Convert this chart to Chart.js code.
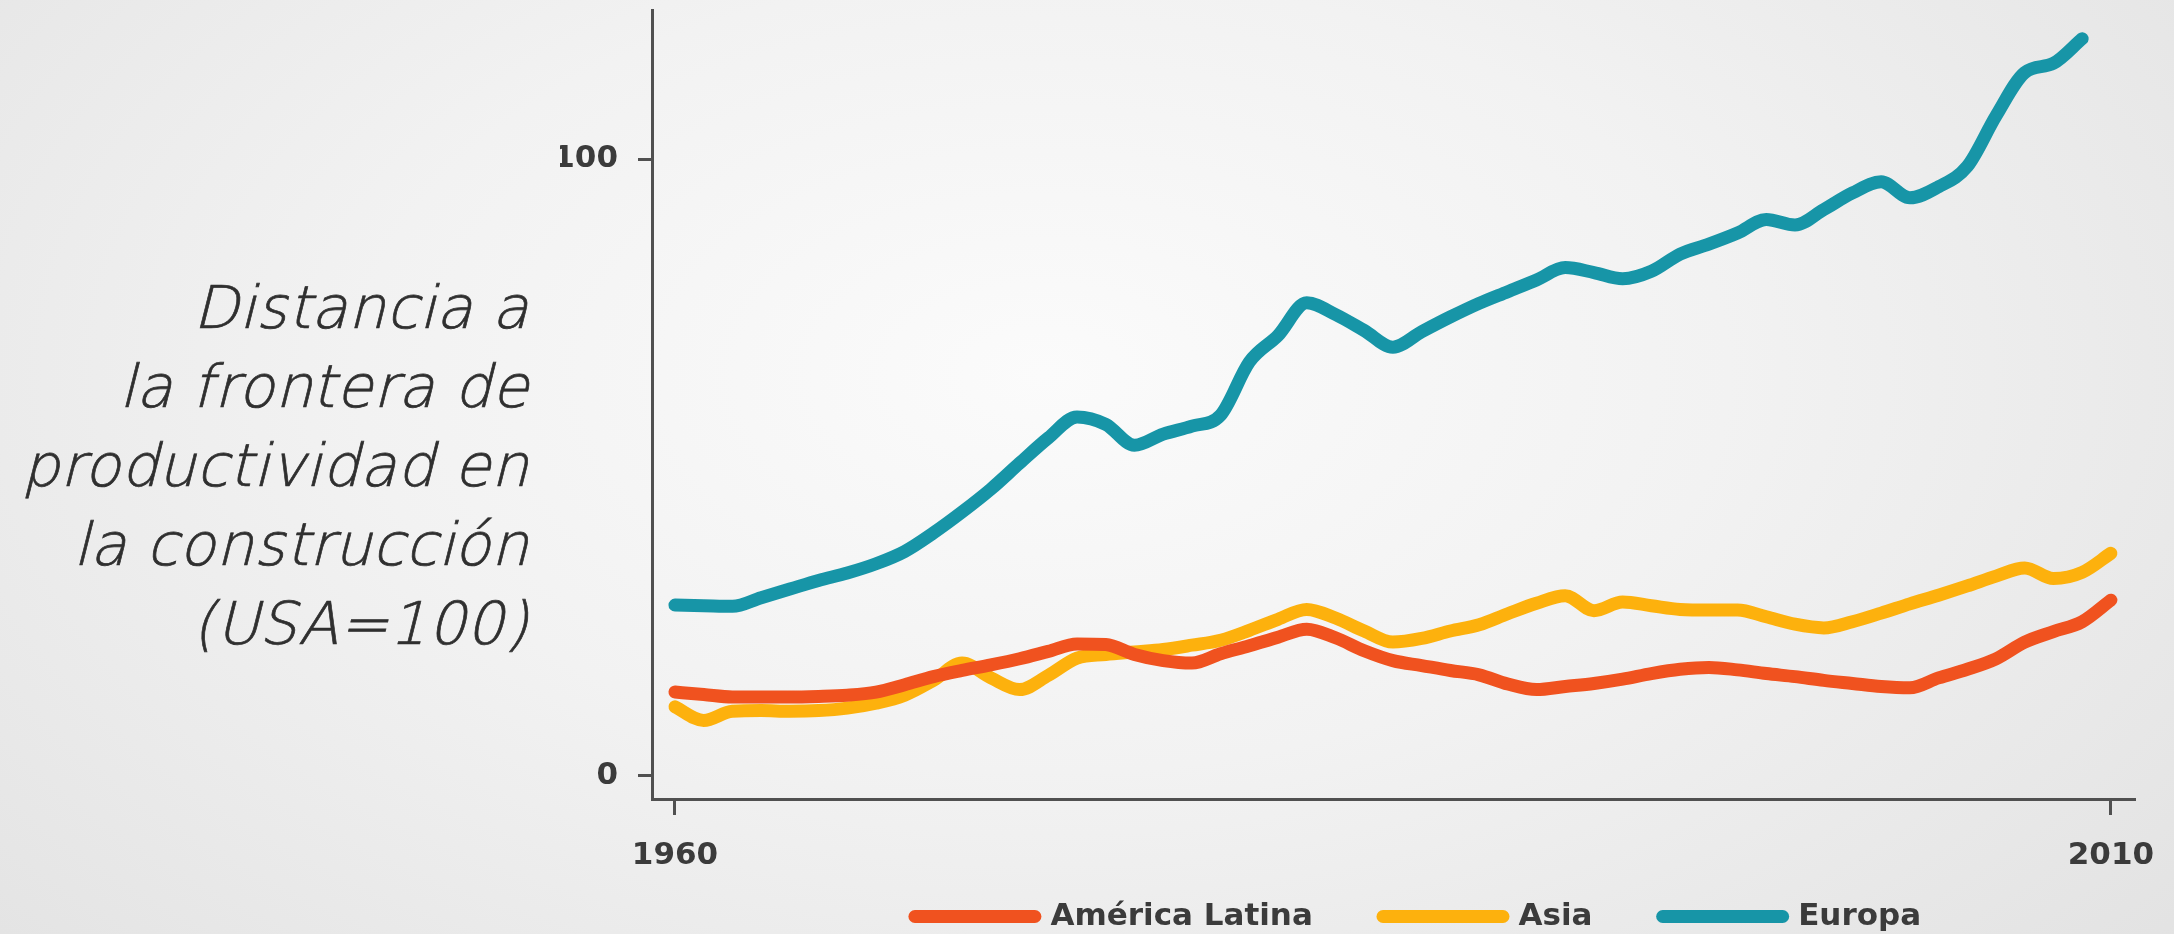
<!DOCTYPE html>
<html lang="es">
<head>
<meta charset="utf-8">
<title>Distancia a la frontera de productividad en la construcción</title>
<script src="https://cdn.jsdelivr.net/npm/chart.js@4.4.1/dist/chart.umd.min.js"></script>
<style>
  @font-face {
    font-family: "TituloLigera";
    src: local("DejaVu Sans ExtraLight"), local("DejaVuSans-ExtraLight");
    font-style: normal;
  }
  html, body { margin: 0; padding: 0; width: 2174px; height: 934px; overflow: hidden; }
  body {
    position: relative;
    background: radial-gradient(ellipse 70% 95% at 48% 40%, #fbfbfb 0%, #f2f2f2 45%, #e2e2e2 100%);
  }
  #titulo {
    position: absolute;
    left: 0;
    top: 268px;
    width: 529px;
    text-align: right;
    white-space: nowrap;
    font-family: "TituloLigera", "DejaVu Sans", sans-serif;
    font-style: italic;
    font-size: 59px;
    line-height: 79px;
    letter-spacing: 0.8px;
    color: #2f2f2f;
    -webkit-text-stroke: 0.7px #2f2f2f;
  }
  #grafico { position: absolute; left: 560px; top: 0; }
</style>
</head>
<body>
<div id="titulo">Distancia a<br>la frontera de<br>productividad en<br>la construcción<br>(USA=100)</div>
<canvas id="grafico" width="1716" height="942"></canvas>

<script>
// datos
const anios = [1960, 1961, 1962, 1963, 1964, 1965, 1966, 1967, 1968, 1969,
               1970, 1971, 1972, 1973, 1974, 1975, 1976, 1977, 1978, 1979,
               1980, 1981, 1982, 1983, 1984, 1985, 1986, 1987, 1988, 1989,
               1990, 1991, 1992, 1993, 1994, 1995, 1996, 1997, 1998, 1999,
               2000, 2001, 2002, 2003, 2004, 2005, 2006, 2007, 2008, 2009, 2010];

const americaLatina = [13.6, 13.2, 12.8, 12.8, 12.8, 12.9, 13.1, 13.6, 14.8, 16.1,
                       17.1, 18.0, 19.0, 20.2, 21.4, 21.3, 19.7, 18.7, 18.3, 19.8,
                       21.1, 22.5, 23.8, 22.4, 20.3, 18.7, 17.9, 17.1, 16.4, 14.9,
                       14.0, 14.5, 15.0, 15.7, 16.6, 17.3, 17.6, 17.2, 16.6, 16.1,
                       15.5, 15.0, 14.5, 14.3, 15.9, 17.3, 19.0, 21.7, 23.4, 25.0, 28.5];

const asia = [11.2, 9.0, 10.5, 10.6, 10.5, 10.6, 11.0, 11.8, 13.1, 15.5,
              18.3, 15.9, 14.0, 16.3, 19.1, 19.7, 20.1, 20.5, 21.2, 22.0,
              23.6, 25.4, 27.0, 25.6, 23.5, 21.7, 22.3, 23.5, 24.5, 26.3,
              28.0, 29.2, 26.8, 28.2, 27.6, 27.0, 26.9, 26.9, 25.8, 24.6,
              24.0, 25.0, 26.4, 27.9, 29.3, 30.8, 32.4, 33.7, 32.0, 33.0, 36.1];

const europa = [27.7, 27.6, 27.5, 28.9, 30.3, 31.7, 32.9, 34.4, 36.4, 39.4,
                42.8, 46.5, 50.7, 54.8, 58.2, 57.0, 53.6, 55.4, 56.7, 58.5,
                67.1, 71.4, 76.7, 74.8, 72.2, 69.5, 72.0, 74.4, 76.6, 78.5,
                80.4, 82.4, 81.6, 80.6, 81.8, 84.6, 86.2, 88.0, 90.2, 89.3,
                91.8, 94.5, 96.3, 93.7, 95.5, 98.8, 107.0, 114.0, 115.5, 119.5, null];

const nombres = ["América Latina", "Asia", "Europa"];
const colores = ["#f0521f", "#fdb10d", "#1795a7"];
const ticksX = [1960, 2010];
const ticksY = [0, 100];

const colorEje = "#505050";
const colorTexto = "#3b3b3b";
const fuenteEje = { family: "DejaVu Sans", weight: "bold", size: 31 };

function serie(valores) {
  return anios.map((a, i) => ({ x: a, y: valores[i] }));
}

const datasets = [americaLatina, asia, europa].map((valores, i) => ({
  label: nombres[i],
  data: serie(valores),
  borderColor: colores[i],
  backgroundColor: colores[i],
  borderWidth: 13,
  borderCapStyle: "round",
  borderJoinStyle: "round",
  cubicInterpolationMode: "monotone",
  pointRadius: 0,
  pointHoverRadius: 0,
  fill: false
}));

new Chart(document.getElementById("grafico"), {
  type: "line",
  data: { datasets },
  options: {
    responsive: false,
    animation: false,
    events: [],
    layout: { padding: { top: 10, left: 0, right: 0, bottom: 0 } },
    scales: {
      x: {
        type: "linear",
        min: 1959.2,
        max: 2010.84,
        afterBuildTicks: s => { s.ticks = ticksX.map(v => ({ value: v })); },
        afterFit: s => { s.height = 75; },
        ticks: {
          callback: v => String(v),
          font: fuenteEje,
          color: colorTexto,
          padding: 22,
          maxRotation: 0,
          autoSkip: false
        },
        grid: { drawOnChartArea: false, drawTicks: true, tickLength: 16, tickWidth: 3, tickColor: colorEje },
        border: { display: true, color: colorEje, width: 3 }
      },
      y: {
        type: "linear",
        position: "left",
        min: -3.73,
        max: 124.15,
        afterBuildTicks: s => { s.ticks = ticksY.map(v => ({ value: v })); },
        afterFit: s => {
          s.width = 92;
          // las etiquetas no tocan los extremos, no hace falta margen
          s.paddingTop = 0;
          s.paddingBottom = 0;
        },
        ticks: {
          callback: v => String(v),
          font: fuenteEje,
          color: colorTexto,
          padding: 20
        },
        grid: { drawOnChartArea: false, drawTicks: true, tickLength: 14, tickWidth: 3, tickColor: colorEje },
        border: { display: true, color: colorEje, width: 3 }
      },
      // eje vacio a la derecha, solo reserva espacio para centrar la leyenda
      derecha: {
        type: "linear",
        position: "right",
        afterFit: s => { s.width = 141; s.paddingTop = 0; s.paddingBottom = 0; },
        ticks: { display: false },
        grid: { display: false },
        border: { display: false }
      }
    },
    plugins: {
      tooltip: { enabled: false },
      legend: {
        position: "bottom",
        labels: {
          usePointStyle: true,
          pointStyle: "line",
          pointStyleWidth: 120,
          padding: 27,
          font: fuenteEje,
          color: colorTexto,
          generateLabels: chart =>
            Chart.defaults.plugins.legend.labels.generateLabels(chart).map((item, i, todos) => ({
              ...item,
              // espacio extra entre elementos de la leyenda
              text: i < todos.length - 1 ? item.text + "    " : item.text,
              lineCap: "round",
              lineWidth: 13,
              strokeStyle: colores[item.datasetIndex]
            }))
        }
      }
    }
  }
});
</script>
</body>
</html>
